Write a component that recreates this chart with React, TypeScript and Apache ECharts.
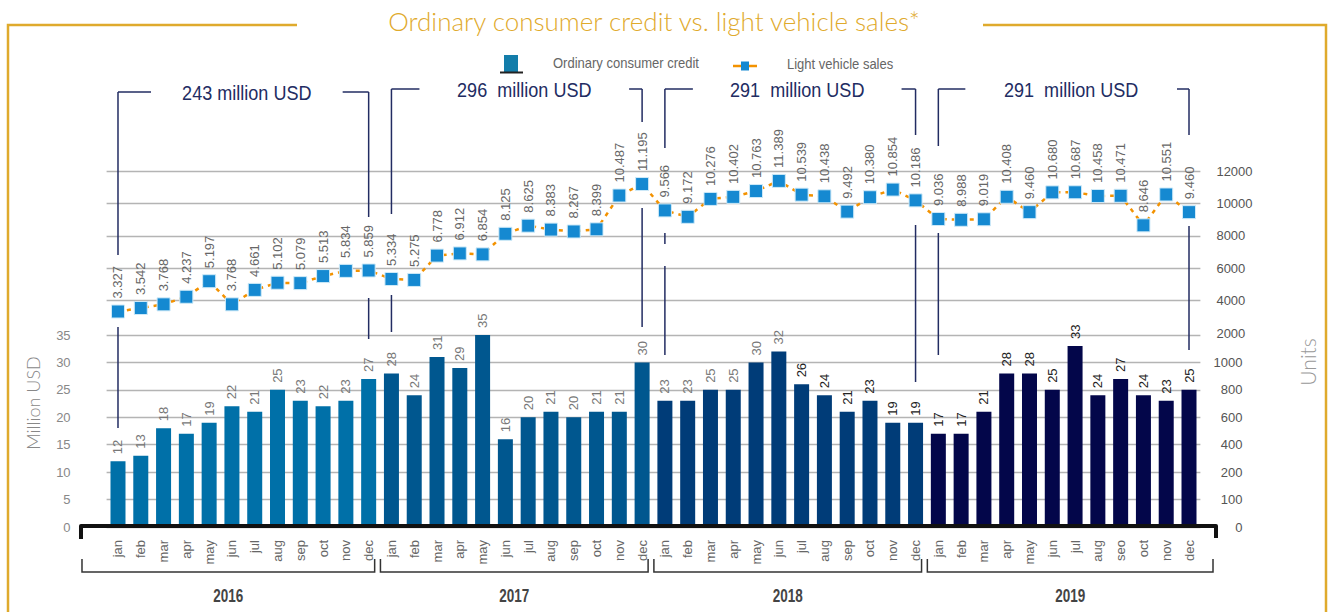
import React, { useEffect, useRef } from "react";
import * as echarts from "echarts";

// ---------- data ----------
const monthLabels = ["jan", "feb", "mar", "apr", "may", "jun", "jul", "aug", "sep", "oct", "nov", "dec"];
const monthLabels2019 = ["jan", "feb", "mar", "apr", "may", "jun", "jul", "aug", "seo", "oct", "nov", "dec"];
const years = ["2016", "2017", "2018", "2019"];
const categories = [...monthLabels, ...monthLabels, ...monthLabels, ...monthLabels2019];

// Ordinary consumer credit, million USD
const credit2016 = [12, 13, 18, 17, 19, 22, 21, 25, 23, 22, 23, 27];
const credit2017 = [28, 24, 31, 29, 35, 16, 20, 21, 20, 21, 21, 30];
const credit2018 = [23, 23, 25, 25, 30, 32, 26, 24, 21, 23, 19, 19];
const credit2019 = [17, 17, 21, 28, 28, 25, 33, 24, 27, 24, 23, 25];
const creditMillionUSD = [...credit2016, ...credit2017, ...credit2018, ...credit2019];

// Light vehicle sales, units
const sales2016 = [3327, 3542, 3768, 4237, 5197, 3768, 4661, 5102, 5079, 5513, 5834, 5859];
const sales2017 = [5334, 5275, 6778, 6912, 6854, 8125, 8625, 8383, 8267, 8399, 10487, 11195];
const sales2018 = [9566, 9172, 10276, 10402, 10763, 11389, 10539, 10438, 9492, 10380, 10854, 10186];
const sales2019 = [9036, 8988, 9019, 10408, 9460, 10680, 10687, 10458, 10471, 8646, 10551, 9460];
const vehicleSalesUnits = [...sales2016, ...sales2017, ...sales2018, ...sales2019];

const periodTotals = ["243 million USD", "296  million USD", "291  million USD", "291  million USD"];

const rightLowerTickLabels = ["0", "100", "200", "400", "600", "800", "1000"];

const titleText = "Ordinary consumer credit vs. light vehicle sales*";
const legendCredit = "Ordinary consumer credit";
const legendSales = "Light vehicle sales";

// ---------- styles ----------
const yearBarColors = ["#0070A8", "#00578F", "#003C78", "#03064A"];
const gold = "#DFAA2C";
const navy = "#222C62";
const FONT = "Liberation Sans, Arial, sans-serif";
const LIGHT = "Lato, Liberation Sans, sans-serif";

const fmtThousands = (v: number) =>
  `${Math.floor(v / 1000)}.${String(v % 1000).padStart(3, "0")}`;

export default function App() {
  const ref = useRef<HTMLDivElement>(null);

  useEffect(() => {
    if (!ref.current) return;
    const chart = echarts.init(ref.current, undefined, { renderer: "svg" });

    const gridLeft = 106.6;
    const gridRight = 1334 - 1200.4;

    const barData = creditMillionUSD.map((v, i) => ({
      value: v,
      itemStyle: { color: yearBarColors[Math.floor(i / 12)] },
      label: { color: i >= 30 ? "#222" : "#777" },
    }));

    chart.setOption({
      animation: false,
      textStyle: { fontFamily: FONT },
      grid: [
        { left: gridLeft, right: gridRight, top: 335, height: 192 },
        { left: gridLeft, right: gridRight, top: 171, height: 162 },
      ],
      xAxis: [
        {
          type: "category",
          gridIndex: 0,
          data: categories,
          axisLine: { show: false },
          axisTick: { show: false },
          axisLabel: { rotate: 90, margin: 13, color: "#666", fontSize: 13, interval: 0 },
        },
        {
          type: "category",
          gridIndex: 1,
          data: categories,
          show: false,
        },
      ],
      yAxis: [
        {
          type: "value",
          gridIndex: 0,
          position: "left",
          min: 0,
          max: 35,
          interval: 5,
          axisLine: { show: false },
          axisTick: { show: false },
          axisLabel: { color: "#888", fontSize: 13, margin: 36 },
          splitLine: { lineStyle: { color: "#b4b4b4", width: 1.3 } },
        },
        {
          type: "value",
          gridIndex: 0,
          position: "right",
          min: 0,
          max: 35,
          interval: 5,
          axisLine: { show: false },
          axisTick: { show: false },
          splitLine: { show: false },
          axisLabel: {
            color: "#555",
            fontSize: 13,
            margin: 42,
            align: "right",
            formatter: (v: number) => rightLowerTickLabels[Math.round(v / 5)] ?? "",
          },
        },
        {
          type: "value",
          gridIndex: 1,
          position: "right",
          min: 2000,
          max: 12000,
          interval: 2000,
          axisLine: { show: false },
          axisTick: { show: false },
          splitLine: { showMinLine: false, lineStyle: { color: "#b4b4b4", width: 1.3 } },
          axisLabel: {
            color: "#555",
            fontSize: 13,
            margin: 16,
            align: "left",
            padding: [0, 0, 8, 0],
            formatter: (v: number) => String(v),
          },
        },
      ],
      series: [
        {
          name: legendCredit,
          type: "bar",
          xAxisIndex: 0,
          yAxisIndex: 0,
          barWidth: 15,
          data: barData,
          label: {
            show: true,
            position: "top",
            rotate: 90,
            align: "left",
            verticalAlign: "middle",
            distance: 7,
            fontSize: 13,
          },
        },
        {
          name: legendSales,
          type: "line",
          xAxisIndex: 1,
          yAxisIndex: 2,
          data: vehicleSalesUnits,
          symbol: "rect",
          symbolSize: 13,
          itemStyle: { color: "#1589D1", borderColor: "#CFEAF8", borderWidth: 1 },
          lineStyle: { color: "#F39200", width: 2.5, type: [4, 5] },
          label: {
            show: true,
            position: "top",
            rotate: 90,
            align: "left",
            verticalAlign: "middle",
            distance: 6,
            fontSize: 13,
            color: "#666",
            formatter: (p: any) => fmtThousands(p.value),
          },
          z: 5,
        },
      ],
    });

    const px = (i: number) => chart.convertToPixel({ xAxisIndex: 0 }, i) as number;

    const seg = (x1: number, y1: number, x2: number, y2: number, stroke: string, lineWidth: number) => ({
      type: "line",
      silent: true,
      z: 100,
      shape: { x1, y1, x2, y2 },
      style: { stroke, lineWidth },
    });

    const els: any[] = [];

    // gold frame
    els.push({
      type: "polyline",
      silent: true,
      z: 100,
      shape: { points: [[297, 25], [8, 25], [8, 640]] },
      style: { stroke: gold, lineWidth: 2.5, fill: null },
    });
    els.push({
      type: "polyline",
      silent: true,
      z: 100,
      shape: { points: [[983, 25], [1326, 25], [1326, 640]] },
      style: { stroke: gold, lineWidth: 2.5, fill: null },
    });
    els.push({
      type: "text",
      silent: true,
      z: 100,
      x: 654,
      y: 21,
      style: {
        text: titleText,
        fill: gold,
        fontSize: 26,
        fontFamily: LIGHT,
        fontWeight: 300,
        align: "center",
        verticalAlign: "middle",
      },
    });

    // legend
    els.push({
      type: "rect",
      silent: true,
      z: 100,
      shape: { x: 504, y: 55, width: 14, height: 17 },
      style: { fill: "#137DAA" },
    });
    els.push(seg(500, 72.5, 523, 72.5, "#222", 2));
    els.push({
      type: "text",
      silent: true,
      z: 100,
      x: 553,
      y: 63,
      scaleX: 0.93,
      style: { text: legendCredit, fill: "#666", fontSize: 14, fontFamily: FONT, verticalAlign: "middle" },
    });
    els.push(seg(733, 66, 757, 66, "#F39200", 2.5));
    els.push({
      type: "rect",
      silent: true,
      z: 101,
      shape: { x: 741, y: 61.5, width: 8, height: 9 },
      style: { fill: "#1589D1" },
    });
    els.push({
      type: "text",
      silent: true,
      z: 100,
      x: 787,
      y: 64,
      scaleX: 0.93,
      style: { text: legendSales, fill: "#666", fontSize: 14, fontFamily: FONT, verticalAlign: "middle" },
    });

    // axis names
    els.push({
      type: "text",
      silent: true,
      z: 100,
      x: 33,
      y: 403,
      rotation: Math.PI / 2,
      style: {
        text: "Million USD",
        fill: "#888",
        fontSize: 18,
        fontFamily: LIGHT,
        fontWeight: 300,
        align: "center",
        verticalAlign: "middle",
      },
    });
    els.push({
      type: "text",
      silent: true,
      z: 100,
      x: 1307,
      y: 362,
      rotation: Math.PI / 2,
      style: {
        text: "Units",
        fill: "#999",
        fontSize: 21,
        fontFamily: LIGHT,
        fontWeight: 300,
        align: "center",
        verticalAlign: "middle",
      },
    });

    // thick black base axis
    const axL = px(0) - 37;
    const axR = px(categories.length - 1) + 27;
    els.push({
      type: "polyline",
      silent: true,
      z: 100,
      shape: { points: [[axL, 539], [axL, 526], [axR, 526], [axR, 538]] },
      style: { stroke: "#111", lineWidth: 4, fill: null, lineJoin: "round" },
    });

    // period brackets (top)
    const bracketTop = [92, 89, 89, 89];
    const leftHoriz = [33, 28, 28, 27];
    const rightHoriz = [26, 13, 14, 12];
    const leftLegs = [
      [[92, 255], [327, 428]],
      [[89, 214], [295, 332]],
      [[89, 148], [233, 244], [266, 355]],
      [[89, 146], [233, 355]],
    ];
    const rightLegs = [
      [[92, 217], [298, 339]],
      [[89, 122], [208, 327]],
      [[89, 135], [225, 382]],
      [[89, 135], [226, 350]],
    ];
    years.forEach((_, k) => {
      const xl = px(k * 12);
      const xr = px(k * 12 + 11);
      const t = bracketTop[k];
      els.push(seg(xl, t, xl + leftHoriz[k], t, navy, 1.5));
      els.push(seg(xr - rightHoriz[k], t, xr, t, navy, 1.5));
      leftLegs[k].forEach(([a, b]) => els.push(seg(xl, a, xl, b, navy, 1.5)));
      rightLegs[k].forEach(([a, b]) => els.push(seg(xr, a, xr, b, navy, 1.5)));
      els.push({
        type: "text",
        silent: true,
        z: 100,
        x: (xl + leftHoriz[k] + xr - rightHoriz[k]) / 2,
        y: t,
        scaleX: 0.86,
        style: {
          text: periodTotals[k],
          fill: navy,
          fontSize: 21,
          fontFamily: FONT,
          align: "center",
          verticalAlign: "middle",
        },
      });
    });

    // year brackets (bottom)
    years.forEach((y, k) => {
      const first = k * 12;
      const last = k * 12 + 11;
      const bl = k === 0 ? axL + 1 : px(first) - 11;
      const br = k === years.length - 1 ? axR - 3 : px(last) + 6;
      els.push({
        type: "polyline",
        silent: true,
        z: 100,
        shape: { points: [[bl, 559], [bl, 572], [br, 572], [br, 559]] },
        style: { stroke: "#333", lineWidth: 1.5, fill: null },
      });
      els.push({
        type: "text",
        silent: true,
        z: 100,
        x: (bl + br) / 2,
        y: 596,
        scaleX: 0.75,
        style: {
          text: y,
          fill: "#444",
          fontSize: 18,
          fontWeight: "bold",
          fontFamily: FONT,
          align: "center",
          verticalAlign: "middle",
        },
      });
    });

    chart.setOption({ graphic: { elements: els } });

    return () => chart.dispose();
  }, []);

  return (
    <div
      ref={ref}
      style={{ position: "absolute", left: 0, top: 0, width: 1334, height: 612, background: "#fff" }}
    />
  );
}
